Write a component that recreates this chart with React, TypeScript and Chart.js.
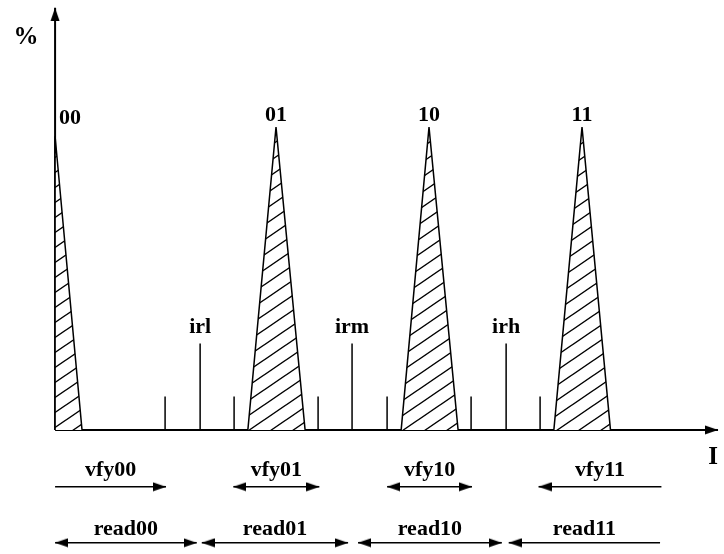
import React, { useEffect, useRef } from 'react';
import { Chart, registerables } from 'chart.js';

Chart.register(...registerables);

// Peaks (threshold distributions)
const peakLabels = ['00', '01', '10', '11'];
const peakCenters = [0, 14.44, 24.44, 34.44];
const peakHeights = [97, 100, 100, 100];
const peakStarts = [0, 12.6, 22.62, 32.6];
const peakEnds = [1.76, 16.34, 26.34, 36.3];

// Read reference levels
const readRefLabels = ['irl', 'irm', 'irh'];
const readRefPositions = [9.48, 19.41, 29.48];
const readRefHeights = [28.5, 28.5, 28.5];

// Verify reference levels
const verifyRefPositions = [7.19, 11.7, 17.19, 21.7, 27.19, 31.7];
const verifyRefHeights = [11, 11, 11, 11, 11, 11];

// Verify ranges
const vfyLabels = ['vfy00', 'vfy01', 'vfy10', 'vfy11'];
const vfyStarts = [0, 11.65, 21.7, 31.6];
const vfyEnds = [7.25, 17.27, 27.25, 39.63];
const vfyLeftHeads = [false, true, true, true];
const vfyRightHeads = [true, true, true, false];
const vfyLevel = -18.8;

// Read ranges
const readLabels = ['read00', 'read01', 'read10', 'read11'];
const readStarts = [0, 9.59, 19.8, 29.65];
const readEnds = [9.26, 19.15, 29.2, 39.54];
const readLeftHeads = [true, true, true, true];
const readRightHeads = [true, true, true, false];
const readLevel = -37.3;

// Axes
const xAxisEnd = 43.33;
const yAxisEnd = 139.4;
const xAxisTitle = 'I';
const yAxisTitle = '%';

const labelFont = 'bold 22px "Liberation Serif"';
const titleFont = 'bold 25px "Liberation Serif"';

function makeHatch(): CanvasPattern | string {
  const w = 22;
  const h = 15;
  const c = document.createElement('canvas');
  c.width = w;
  c.height = h;
  const ctx = c.getContext('2d');
  if (!ctx) return '#fff';
  ctx.fillStyle = '#fff';
  ctx.fillRect(0, 0, w, h);
  ctx.strokeStyle = '#000';
  ctx.lineWidth = 1.4;
  ctx.beginPath();
  for (const k of [-1, 0, 1]) {
    ctx.moveTo(k * w - w, 2 * h);
    ctx.lineTo(k * w + 2 * w, -h);
  }
  ctx.stroke();
  return ctx.createPattern(c, 'repeat') || '#fff';
}

function makeHead(): HTMLCanvasElement {
  const c = document.createElement('canvas');
  c.width = 26;
  c.height = 10;
  const ctx = c.getContext('2d');
  if (ctx) {
    ctx.fillStyle = '#000';
    ctx.beginPath();
    ctx.moveTo(13, 5);
    ctx.lineTo(0, 0.5);
    ctx.lineTo(0, 9.5);
    ctx.closePath();
    ctx.fill();
  }
  return c;
}

export default function App() {
  const ref = useRef<HTMLCanvasElement>(null);

  useEffect(() => {
    const canvas = ref.current;
    if (!canvas) return;
    const hatch = makeHatch();
    const head = makeHead();
    const datasets: any[] = [];

    peakCenters.forEach((c, i) => {
      datasets.push({
        data: [
          { x: peakStarts[i], y: 0 },
          { x: c, y: peakHeights[i] },
          { x: peakEnds[i], y: 0 },
        ],
        borderColor: '#000',
        borderWidth: 1.5,
        backgroundColor: hatch,
        fill: 'origin',
        pointRadius: 0,
      });
    });

    readRefPositions.forEach((p, i) => {
      datasets.push({
        data: [
          { x: p, y: 0 },
          { x: p, y: readRefHeights[i] },
        ],
        borderColor: '#000',
        borderWidth: 1.5,
        pointRadius: 0,
        fill: false,
      });
    });

    verifyRefPositions.forEach((p, i) => {
      datasets.push({
        data: [
          { x: p, y: 0 },
          { x: p, y: verifyRefHeights[i] },
        ],
        borderColor: '#000',
        borderWidth: 1.5,
        pointRadius: 0,
        fill: false,
      });
    });

    const arrow = (start: number, end: number, level: number, left: boolean, right: boolean) => ({
      data: [
        { x: start, y: level },
        { x: end, y: level },
      ],
      borderColor: '#000',
      borderWidth: 1.5,
      fill: false,
      pointStyle: head,
      pointRotation: [180, 0],
      pointRadius: [left ? 5 : 0, right ? 5 : 0],
      pointBorderWidth: 0,
      pointBackgroundColor: '#000',
    });

    vfyStarts.forEach((s, i) => {
      datasets.push(arrow(s, vfyEnds[i], vfyLevel, vfyLeftHeads[i], vfyRightHeads[i]));
    });
    readStarts.forEach((s, i) => {
      datasets.push(arrow(s, readEnds[i], readLevel, readLeftHeads[i], readRightHeads[i]));
    });

    // axes
    datasets.push({
      data: [
        { x: 0, y: 0 },
        { x: xAxisEnd, y: 0 },
      ],
      borderColor: '#000',
      borderWidth: 2,
      fill: false,
      pointStyle: head,
      pointRotation: [0, 0],
      pointRadius: [0, 5],
      pointBorderWidth: 0,
    });
    datasets.push({
      data: [
        { x: 0, y: 0 },
        { x: 0, y: yAxisEnd },
      ],
      borderColor: '#000',
      borderWidth: 2,
      fill: false,
      pointStyle: head,
      pointRotation: [0, 270],
      pointRadius: [0, 5],
      pointBorderWidth: 0,
    });

    const labelPlugin = {
      id: 'diagramLabels',
      afterDatasetsDraw(chart: any) {
        const { ctx } = chart;
        const xs = chart.scales.x;
        const ys = chart.scales.y;
        ctx.save();
        ctx.fillStyle = '#000';
        ctx.textBaseline = 'middle';
        ctx.font = labelFont;
        const peakTop = ys.getPixelForValue(Math.max(...peakHeights));
        peakLabels.forEach((t, i) => {
          const px = xs.getPixelForValue(peakCenters[i]);
          if (peakCenters[i] === 0) {
            ctx.textAlign = 'left';
            ctx.fillText(t, px + 4, peakTop - 9);
          } else {
            ctx.textAlign = 'center';
            ctx.fillText(t, px, peakTop - 12);
          }
        });
        ctx.textAlign = 'center';
        readRefLabels.forEach((t, i) => {
          ctx.fillText(t, xs.getPixelForValue(readRefPositions[i]), ys.getPixelForValue(readRefHeights[i]) - 16);
        });
        vfyLabels.forEach((t, i) => {
          const mid = (vfyStarts[i] + vfyEnds[i]) / 2;
          ctx.fillText(t, xs.getPixelForValue(mid), ys.getPixelForValue(vfyLevel) - 16);
        });
        readLabels.forEach((t, i) => {
          const mid = (readStarts[i] + readEnds[i]) / 2;
          ctx.fillText(t, xs.getPixelForValue(mid), ys.getPixelForValue(readLevel) - 13);
        });
        ctx.font = titleFont;
        ctx.fillText(yAxisTitle, xs.getPixelForValue(0) - 29, ys.getPixelForValue(yAxisEnd) + 30);
        ctx.fillText(xAxisTitle, xs.getPixelForValue(xAxisEnd) - 5, ys.getPixelForValue(0) + 28);
        ctx.restore();
      },
    };

    const chart = new Chart(canvas, {
      type: 'line',
      data: { datasets },
      options: {
        animation: false,
        responsive: false,
        events: [],
        layout: { padding: 0, autoPadding: false },
        plugins: { legend: { display: false }, tooltip: { enabled: false } },
        scales: {
          x: { type: 'linear', display: false, min: -3.6, max: 43.72 },
          y: { type: 'linear', display: false, min: -41, max: 142 },
        },
      },
      plugins: [labelPlugin],
    });
    return () => chart.destroy();
  }, []);

  return (
    <div style={{ position: 'fixed', left: 0, top: 0, width: 724, height: 554, background: '#fff' }}>
      <canvas ref={ref} width={724} height={554} style={{ width: 724, height: 554, display: 'block' }} />
    </div>
  );
}
